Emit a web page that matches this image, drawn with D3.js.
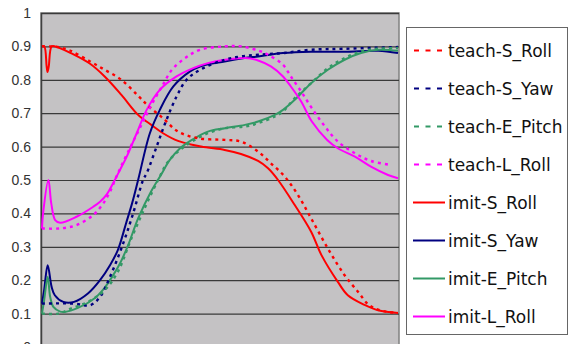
<!DOCTYPE html>
<html>
<head>
<meta charset="utf-8">
<script src="https://cdn.jsdelivr.net/npm/d3@7"></script>
<style>
  body { margin: 0; background: #fff; }
  svg { display: block; }
</style>
</head>
<body>
<div id="chart"></div>
<script>
// samples are [time step, value]
const teachSRoll = [[0,0.9],[2.2,0.9],[5,0.897],[8,0.887],[13.5,0.855],[17.6,0.83],[22.3,0.8],[27,0.752],[29.8,0.722],[34,0.685],[38.2,0.645],[43.8,0.625],[51.3,0.62],[55.9,0.615],[60.7,0.585],[64.3,0.55],[68.2,0.51],[71.9,0.455],[75.6,0.385],[80.3,0.295],[85,0.215],[88.8,0.165],[91.6,0.128],[94.4,0.112],[97.2,0.105],[100,0.102]];
const teachSYaw = [[0,0.13],[8.9,0.13],[13.5,0.125],[16.3,0.15],[19.1,0.21],[22.8,0.31],[25.6,0.4],[28.4,0.5],[29.4,0.52],[32.2,0.6],[34.6,0.67],[37.8,0.75],[40.6,0.8],[44.4,0.83],[51.3,0.86],[55.9,0.87],[60.7,0.875],[67.7,0.88],[75.6,0.89],[85,0.893],[100,0.898]];
const teachEPitch = [[0,0.1],[4.5,0.1],[8.1,0.115],[12.9,0.135],[17.6,0.17],[21.3,0.225],[25.1,0.325],[28.8,0.415],[32.6,0.5],[35.4,0.555],[38.8,0.59],[42.1,0.615],[46.6,0.64],[51.4,0.655],[57,0.66],[60.7,0.67],[65.4,0.69],[67.7,0.705],[71,0.745],[75.6,0.79],[80.3,0.835],[85,0.865],[89.6,0.885],[94.4,0.893],[100,0.895]];
const teachLRoll = [[0,0.355],[5.1,0.355],[9.7,0.365],[14.4,0.395],[17.2,0.43],[19.1,0.465],[21.1,0.515],[24.9,0.6],[27.7,0.66],[30.5,0.72],[33.7,0.78],[36.5,0.83],[40.2,0.865],[44.4,0.89],[51.4,0.9],[55.9,0.9],[60.7,0.888],[63.5,0.875],[67.7,0.845],[69.9,0.81],[72.8,0.765],[75.8,0.715],[79.5,0.66],[83.1,0.615],[87.9,0.58],[92.4,0.557],[98,0.545]];

const imitSRoll = [[0,0.9],[0.65,0.9],[1.3,0.84],[1.55,0.823],[1.9,0.84],[2.7,0.9],[3.7,0.9],[5,0.895],[8.1,0.88],[13.5,0.848],[17.6,0.81],[22.3,0.755],[27,0.695],[30.7,0.665],[34,0.64],[38.2,0.617],[44.7,0.6],[51.3,0.59],[55.9,0.578],[60.7,0.557],[63.5,0.535],[66.3,0.5],[71,0.425],[75.6,0.345],[78.5,0.275],[83.1,0.195],[85.9,0.155],[90.6,0.126],[94.4,0.11],[100,0.102]];
const imitSYaw = [[0,0.13],[0.6,0.17],[1.6,0.245],[2.7,0.18],[3.6,0.155],[6,0.135],[9,0.135],[12.9,0.16],[16.3,0.2],[19.1,0.245],[21.3,0.29],[23.6,0.37],[25.3,0.43],[27,0.5],[30.3,0.64],[33.1,0.71],[36.9,0.78],[41.6,0.825],[44.4,0.84],[51.3,0.855],[56.9,0.865],[60.7,0.87],[67.7,0.88],[75.6,0.884],[85,0.884],[94.4,0.887],[100,0.88]];
const imitEPitch = [[0,0.1],[0.6,0.14],[1.6,0.21],[2.3,0.15],[3.2,0.12],[5.1,0.106],[6.4,0.105],[10.1,0.117],[14.8,0.146],[17.4,0.175],[19.7,0.21],[21.9,0.25],[24.2,0.305],[27,0.385],[30.6,0.465],[33.4,0.515],[35.9,0.56],[38.8,0.595],[42.1,0.62],[46.6,0.645],[51.4,0.655],[57,0.665],[60.7,0.675],[65.4,0.695],[67.7,0.71],[71,0.74],[75.6,0.79],[80.3,0.83],[85,0.86],[89.6,0.88],[94.4,0.89],[100,0.887]];
const imitLRoll = [[0,0.355],[0.3,0.4],[1.8,0.5],[2.6,0.43],[3.7,0.38],[5.1,0.372],[9.7,0.39],[14.4,0.42],[16.3,0.435],[18.2,0.457],[19.7,0.485],[21.9,0.53],[23.8,0.57],[26.6,0.64],[29.4,0.71],[33.1,0.77],[37.8,0.81],[42.5,0.835],[46.6,0.85],[51.4,0.86],[57,0.865],[60.7,0.858],[64.3,0.84],[67.7,0.81],[69.9,0.78],[72.8,0.735],[75.8,0.675],[80.1,0.62],[83.1,0.595],[87.9,0.57],[92.4,0.54],[97.2,0.515],[100,0.505]];

const seriesNames = ['teach-S_Roll', 'teach-S_Yaw', 'teach-E_Pitch', 'teach-L_Roll', 'imit-S_Roll', 'imit-S_Yaw', 'imit-E_Pitch', 'imit-L_Roll'];
const yTicks = [0, 0.1, 0.2, 0.3, 0.4, 0.5, 0.6, 0.7, 0.8, 0.9, 1];
const yTickLabels = ['0', '0.1', '0.2', '0.3', '0.4', '0.5', '0.6', '0.7', '0.8', '0.9', '1'];

const colors = ['#ff0000', '#000080', '#339966', '#ff00ff'];
const series = [teachSRoll, teachSYaw, teachEPitch, teachLRoll, imitSRoll, imitSYaw, imitEPitch, imitLRoll]
  .map((values, i) => ({
    name: seriesNames[i],
    values,
    color: colors[i % 4],
    dashed: i < 4,
  }));

const width = 569;
const height = 344;
const plot = { left: 41, right: 399, top: 13, bottom: 347 };

const svg = d3.select('#chart').append('svg')
  .attr('width', width)
  .attr('height', height);

const x = d3.scaleLinear().domain([0, 100]).range([plot.left + 1, plot.right - 1]);
const y = d3.scaleLinear().domain([0, 1]).range([plot.bottom, plot.top]);

svg.append('rect')
  .attr('x', plot.left)
  .attr('y', plot.top)
  .attr('width', plot.right - plot.left)
  .attr('height', plot.bottom - plot.top)
  .attr('fill', '#c4c2c4')
  .attr('stroke', '#808080')
  .attr('stroke-width', 1.5);

const yAxis = d3.axisLeft(y)
  .tickValues(yTicks)
  .tickSize(-(plot.right - plot.left))
  .tickPadding(10)
  .tickFormat((d, i) => yTickLabels[i]);

const gy = svg.append('g')
  .attr('transform', `translate(${plot.left},0)`)
  .call(yAxis);
gy.select('.domain').attr('stroke', '#404040').attr('stroke-width', 1.5);
gy.selectAll('.tick line').attr('stroke', '#3a3a3a').attr('stroke-width', 1.2);
gy.selectAll('.tick text')
  .attr('fill', '#333')
  .style('font-family', '"Liberation Sans", Arial, sans-serif')
  .style('font-size', '14px');

const line = d3.line()
  .x(d => x(d[0]))
  .y(d => y(d[1]))
  .curve(d3.curveCatmullRom.alpha(0.5));

// solid lines first, dashed on top like the original
const drawOrder = [4, 5, 6, 7, 0, 1, 2, 3];
svg.append('g')
  .selectAll('path')
  .data(drawOrder.map(i => series[i]))
  .join('path')
  .attr('fill', 'none')
  .attr('stroke', d => d.color)
  .attr('stroke-width', d => d.dashed ? 2.4 : 2)
  .attr('stroke-dasharray', d => d.dashed ? '3,4' : null)
  .attr('stroke-linejoin', 'round')
  .attr('d', d => line(d.values));

// legend
const legend = svg.append('g');
legend.append('rect')
  .attr('x', 406.5)
  .attr('y', 27.5)
  .attr('width', 161)
  .attr('height', 307)
  .attr('fill', '#fff')
  .attr('stroke', '#666')
  .attr('stroke-width', 1);

const items = legend.selectAll('g.item')
  .data(series)
  .join('g')
  .attr('class', 'item')
  .attr('transform', (d, i) => `translate(0, ${50.5 + i * 38})`);

items.append('line')
  .attr('x1', d => d.dashed ? 414 : 413)
  .attr('x2', 445)
  .attr('stroke', d => d.color)
  .attr('stroke-width', 2)
  .attr('stroke-dasharray', d => d.dashed ? '5,6.5' : null);

items.append('text')
  .attr('x', 448)
  .attr('dy', '0.36em')
  .attr('fill', '#111')
  .style('font-family', '"DejaVu Sans", sans-serif')
  .style('font-size', '17px')
  .text(d => d.name);
</script>
</body>
</html>
